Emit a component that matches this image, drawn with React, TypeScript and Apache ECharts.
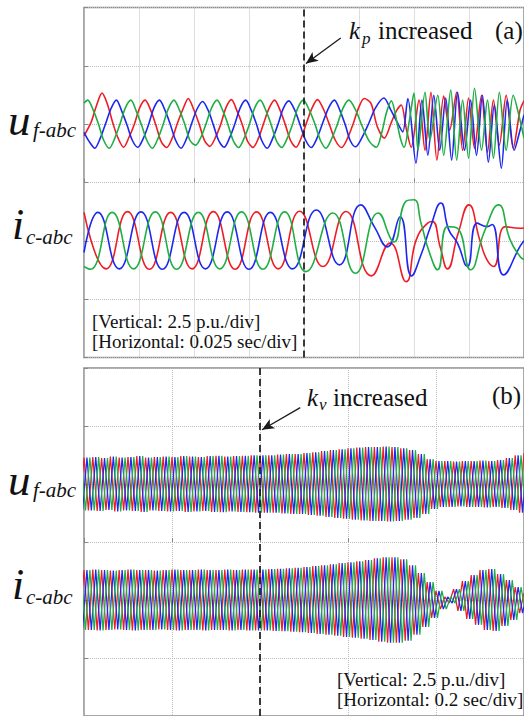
import React, { useEffect, useRef } from "react";
import * as echarts from "echarts";

// ---------- Panel (a): time in ms, values in p.u. ----------
const UF_A_RED: number[][] = [[0,-0.5],[3.3,0.1],[5.5,0.75],[8.2,1.33],[10.5,0.9],[13.1,0.05],[15.5,-0.6],[18.0,-0.99],[20.5,-0.55],[22.9,0.0],[25.3,0.7],[27.8,1.03],[30.3,0.6],[32.7,-0.05],[35.1,-0.75],[37.6,-1.0],[40.1,-0.6],[42.5,0.05],[45.0,0.65],[47.4,1.1],[49.9,0.62],[52.3,0.02],[54.7,-0.68],[57.2,-0.95],[59.7,-0.58],[62.1,-0.02],[64.5,0.7],[67.0,1.05],[69.5,0.58],[71.9,0.0],[74.3,-0.72],[76.8,-1.0],[79.3,-0.6],[81.7,0.05],[84.1,0.68],[86.6,1.03],[89.1,0.6],[91.5,-0.02],[93.9,-0.7],[96.4,-0.99],[98.9,-0.55],[101.3,0.1],[103.7,0.7],[106.1,1.05],[108.8,0.65],[111.5,0.0],[114.3,-0.7],[117.1,-1.0],[119.8,-0.6],[122.3,0.0],[124.8,0.7],[127.4,1.1],[130.4,0.9],[133.3,-0.1],[136.5,-0.6],[139.8,0.1],[142.2,0.6],[144.2,0.82],[146.5,-0.2],[148.7,-0.99],[152.3,1.03],[155.0,-1.12],[157.7,1.37],[160.4,-1.54],[163.5,1.2],[166.2,-0.26],[169.4,1.37],[172.1,-1.12],[174.8,1.12],[177.5,-1.03],[180.7,1.24],[183.4,-1.2],[186.1,1.03],[188.8,-0.9],[191.9,1.24],[195.1,-1.03],[198.2,0.6],[200,1.0]];
const UF_A_BLUE: number[][] = [[0,-0.35],[2.4,-0.75],[4.9,-1.03],[7.4,-0.6],[9.8,0.02],[12.2,0.65],[14.7,1.03],[17.2,0.55],[19.6,-0.05],[22.0,-0.7],[24.5,-0.99],[27.0,-0.6],[29.4,0.0],[31.8,0.7],[34.3,1.03],[36.8,0.6],[39.2,0.0],[41.6,-0.68],[44.1,-1.03],[46.6,-0.62],[49.0,0.05],[51.4,0.65],[53.9,0.97],[56.4,0.6],[58.8,-0.03],[61.2,-0.7],[63.7,-0.99],[66.2,-0.58],[68.6,0.02],[71.0,0.7],[73.5,1.03],[76.0,0.6],[78.4,0.0],[80.8,-0.7],[83.3,-1.03],[85.8,-0.6],[88.2,0.0],[90.6,0.68],[93.1,1.0],[95.8,0.6],[98.3,-0.05],[100.8,-0.7],[103.3,-1.0],[105.9,-0.6],[108.5,0.05],[111.2,0.7],[113.8,1.03],[116.5,0.55],[119.0,-0.1],[121.0,-0.7],[123.4,-0.97],[126.5,-0.55],[129.5,0.05],[132.5,0.7],[136.3,1.12],[139.5,0.6],[142.6,0.04],[144.9,-0.33],[147.2,1.1],[150.9,-1.67],[153.6,1.03],[156.3,-1.33],[159.0,1.24],[161.7,-1.12],[164.4,1.12],[167.1,-1.54],[169.8,1.37],[173.0,-1.12],[175.7,1.03],[178.4,-1.33],[181.1,1.24],[183.8,-1.63],[186.5,0.82],[189.7,-1.89],[192.4,1.03],[195.5,-1.12],[198.2,-0.26],[200,0.4]];
const UF_A_GREEN: number[][] = [[0,0.9],[1.7,1.03],[4.2,0.6],[6.6,0.0],[9.0,-0.7],[11.5,-1.03],[14.0,-0.6],[16.4,0.02],[18.8,0.7],[21.3,1.03],[23.8,0.55],[26.2,-0.05],[28.6,-0.7],[31.1,-1.03],[33.6,-0.62],[36.0,0.0],[38.4,0.68],[40.9,1.03],[43.4,0.6],[45.8,0.0],[48.2,-0.7],[50.7,-0.9],[53.2,-0.55],[55.6,0.05],[58.0,0.7],[60.5,1.03],[63.0,0.6],[65.4,0.0],[67.8,-0.7],[70.3,-1.0],[72.8,-0.6],[75.2,0.0],[77.6,0.7],[80.1,1.03],[82.6,0.6],[85.0,0.0],[87.4,-0.7],[89.9,-1.0],[92.4,-0.6],[94.8,0.0],[97.2,0.7],[99.7,1.03],[102.4,0.6],[105.0,0.0],[107.5,-0.7],[110.0,-1.03],[112.7,-0.6],[115.2,0.0],[117.8,0.7],[120.4,1.03],[123.5,0.6],[126.5,-0.1],[129.8,-0.75],[132.9,-0.99],[135.5,-0.3],[137.5,0.5],[139.7,1.0],[142.2,0.1],[143.8,-0.6],[145.5,-0.99],[147.8,0.1],[150.0,1.33],[151.8,-1.12],[155.0,1.37],[157.2,-0.69],[160.8,1.24],[163.5,-1.33],[166.7,1.46],[169.4,-1.54],[172.1,1.03],[174.8,-1.46],[177.5,1.54],[180.7,-1.12],[183.4,1.03],[186.1,-1.46],[188.8,1.37],[191.9,-1.12],[195.1,1.24],[198.2,0.17],[200,-0.6]];

const IC_A_RED: number[][] = [[0,1.22],[10.1,-1.2],[19.8,1.25],[29.7,-1.22],[39.4,1.22],[49.1,-1.2],[58.8,1.25],[68.7,-1.22],[78.4,1.24],[88.3,-1.2],[98.0,1.27],[108.6,-1.1],[119.1,1.26],[130.6,-1.5],[139.2,-0.09],[146.4,-1.75],[151.0,0.04],[156.2,0.76],[158.4,0.83],[162.0,-0.3],[165.2,-1.2],[170.0,0.3],[174.9,1.54],[180.0,0.0],[183.2,-0.82],[186.2,-1.1],[191.5,0.61],[198.2,0.54],[200,0.55]];
const IC_A_BLUE: number[][] = [[0,-0.5],[6.3,1.22],[16.0,-1.2],[25.9,1.24],[35.6,-1.22],[45.5,1.22],[55.2,-1.2],[65.1,1.24],[75.0,-1.22],[84.7,1.22],[94.8,-1.2],[105.6,1.32],[116.1,-1.03],[125.8,1.54],[132.0,0.6],[137.9,-0.26],[143.7,1.03],[148.9,-1.5],[153.2,-0.6],[157.5,0.6],[162.2,1.62],[165.8,0.47],[169.7,-0.09],[174.2,-1.1],[178.7,0.76],[183.2,0.61],[185.5,0.7],[190.7,-1.46],[198.2,-0.24],[200,0.0]];
const IC_A_GREEN: number[][] = [[0,-1.1],[2.9,-1.22],[12.8,1.22],[22.5,-1.2],[32.4,1.24],[42.1,-1.22],[52.0,1.22],[61.7,-1.2],[71.6,1.24],[81.3,-1.22],[91.2,1.24],[100.9,-1.32],[113.1,1.19],[123.4,-1.39],[133.7,1.19],[139.7,0.04],[141.0,-0.05],[146.4,1.7],[150.0,1.76],[153.2,0.76],[157.0,-0.5],[160.7,-1.24],[165.2,0.61],[169.7,0.54],[175.7,-1.24],[182.0,0.4],[188.4,1.54],[193.7,0.04],[198.2,-0.67],[200,-0.8]];

// ---------- Panel (b): per-cycle peak amplitude (p.u.), one value per 20 ms cycle ----------
const B_CYCLE_MS = 20;
const B_PHASE_SHIFT_MS = [0, 6.67, 13.33];
const UF_B_AMP = [1.14,1.16,1.12,1.18,1.14,1.16,1.2,1.14,1.16,1.18,1.16,1.2,1.18,1.16,1.2,1.22,1.18,1.2,1.22,1.24,
  1.24,1.24,1.27,1.29,1.29,1.33,1.37,1.42,1.46,1.5,1.54,1.57,1.59,1.59,1.61,1.59,1.54,1.46,1.29,1.07,
  0.99,0.99,0.97,0.99,0.99,1.01,0.99,1.03,1.12,1.24,1.33];
const IC_B_AMP = [1.29,1.31,1.29,1.27,1.29,1.31,1.29,1.29,1.27,1.29,1.31,1.29,1.29,1.31,1.29,1.29,1.31,1.29,1.31,1.31,
  1.31,1.33,1.35,1.37,1.39,1.42,1.46,1.5,1.54,1.59,1.63,1.67,1.72,1.8,1.84,1.84,1.76,1.5,1.16,0.77,
  0.39,0.13,0.47,0.82,1.07,1.29,1.33,1.12,0.86,0.56,0.3];

// ---------- axes ----------
const A_X_MAX = 200, A_X_DIV = 25, A_EVENT = 100;
const B_X_MAX = 1000, B_X_DIV = 200, B_EVENT = 400;
const Y_MIN = -7.5, Y_MAX = 7.5, Y_DIV = 2.5;
const UF_OFF = 2.5, IC_OFF = -2.5;

const RED = "#ee1d25", BLUE = "#1d27ee", GREEN = "#1fae43";
const SERIF = "Liberation Serif";

function offset(pts: number[][], off: number) {
  return pts.map(([t, v]) => [t, v + off]);
}
function band(amp: number[], shiftMs: number, off: number) {
  const pts: number[][] = [];
  for (let k = -1; k < amp.length; k++) {
    const a = amp[Math.max(k, 0)];
    const t0 = k * B_CYCLE_MS + shiftMs;
    pts.push([t0, off + a]);
    pts.push([t0 + B_CYCLE_MS / 2, off - a]);
  }
  return pts;
}

function axisX(gridIndex: number, max: number, interval: number) {
  return {
    type: "value", gridIndex, min: 0, max, interval,
    axisLabel: { show: false }, axisLine: { show: false },
    axisTick: { show: true, inside: true, length: 4, lineStyle: { color: "#888" } },
    splitLine: { show: true, lineStyle: { type: "dotted", color: "#bcbcbc", width: 1 } },
  };
}
function axisY(gridIndex: number) {
  return {
    type: "value", gridIndex, min: Y_MIN, max: Y_MAX, interval: Y_DIV,
    axisLabel: { show: false }, axisLine: { show: false },
    axisTick: { show: true, inside: true, length: 4, lineStyle: { color: "#888" } },
    splitLine: { show: true, lineStyle: { type: "dotted", color: "#bcbcbc", width: 1 } },
  };
}

function txt(x: number, baseline: number, text: string, size: number, italic = false) {
  return {
    type: "text", x, y: baseline - size * 0.3, z: 100,
    style: { text, fontSize: size, fontFamily: SERIF, fontStyle: italic ? "italic" : "normal", fill: "#111", verticalAlign: "middle", align: "left" },
  };
}

export default function App() {
  const ref = useRef<HTMLDivElement>(null);
  useEffect(() => {
    if (!ref.current) return;
    const chart = echarts.init(ref.current, undefined, { renderer: "svg" });
    const lineA = (data: number[][], color: string, smooth: number, extra: any = {}) => ({
      type: "line", xAxisIndex: 0, yAxisIndex: 0, data, showSymbol: false, symbol: "none",
      smooth, lineStyle: { color, width: 1.6 }, silent: true, clip: true, ...extra,
    });
    const lineB = (data: number[][], color: string, extra: any = {}) => ({
      type: "line", xAxisIndex: 1, yAxisIndex: 1, data, showSymbol: false, symbol: "none",
      lineStyle: { color, width: 1.25 }, silent: true, clip: true, ...extra,
    });
    const dashed = (x: number) => ({
      silent: true, symbol: ["none", "none"], label: { show: false },
      lineStyle: { color: "#1a1a1a", type: [7, 4], width: 1.7 }, data: [{ xAxis: x }],
    });
    const arrow = (from: number[], to: number[]) => ({
      silent: true, symbol: ["none", "arrow"], symbolSize: [8, 12], label: { show: false },
      lineStyle: { color: "#1a1a1a", type: "solid", width: 1.3 },
      data: [[{ coord: from }, { coord: to }]],
    });

    const option: any = {
      animation: false,
      backgroundColor: "#ffffff",
      textStyle: { fontFamily: SERIF },
      grid: [
        { left: 84, top: 7.5, width: 444, height: 350, show: true, borderColor: "#8c8c8c", borderWidth: 1.5 },
        { left: 84, top: 368, width: 443.5, height: 348, show: true, borderColor: "#8c8c8c", borderWidth: 1.5 },
      ],
      xAxis: [axisX(0, A_X_MAX, A_X_DIV), axisX(1, B_X_MAX, B_X_DIV)],
      yAxis: [axisY(0), axisY(1)],
      series: [
        lineA(offset(UF_A_RED, UF_OFF), RED, 0.3),
        lineA(offset(UF_A_BLUE, UF_OFF), BLUE, 0.3),
        lineA(offset(UF_A_GREEN, UF_OFF), GREEN, 0.3),
        lineA(offset(IC_A_RED, IC_OFF), RED, 0.5),
        lineA(offset(IC_A_BLUE, IC_OFF), BLUE, 0.5, { markLine: arrow([116.7, 6.19], [100.9, 5.1]) }),
        lineA(offset(IC_A_GREEN, IC_OFF), GREEN, 0.5, { markLine: dashed(A_EVENT) }),
        lineB(band(UF_B_AMP, B_PHASE_SHIFT_MS[0], UF_OFF), RED),
        lineB(band(UF_B_AMP, B_PHASE_SHIFT_MS[1], UF_OFF), BLUE),
        lineB(band(UF_B_AMP, B_PHASE_SHIFT_MS[2], UF_OFF), GREEN),
        lineB(band(IC_B_AMP, B_PHASE_SHIFT_MS[0], IC_OFF), RED),
        lineB(band(IC_B_AMP, B_PHASE_SHIFT_MS[1], IC_OFF), BLUE, { markLine: arrow([491.5, 5.79], [404.7, 4.84]) }),
        lineB(band(IC_B_AMP, B_PHASE_SHIFT_MS[2], IC_OFF), GREEN, { markLine: dashed(B_EVENT) }),
      ],
      graphic: [
        // panel (a)
        txt(349, 38, "k", 25, true),
        txt(362, 44, "p", 17, true),
        txt(378, 38, "increased", 25),
        txt(495, 38, "(a)", 25),
        txt(92, 327, "[Vertical: 2.5 p.u./div]", 19),
        txt(92, 347, "[Horizontal: 0.025 sec/div]", 19),
        txt(8, 133, "u", 45, true),
        txt(33, 136, "f-abc", 21, true),
        txt(12, 238, "i", 44, true),
        txt(26, 243, "c-abc", 21, true),
        // panel (b)
        txt(307, 405, "k", 25, true),
        txt(319, 410, "v", 17, true),
        txt(333, 405, "increased", 25),
        txt(492, 403, "(b)", 25),
        txt(337, 685, "[Vertical: 2.5 p.u./div]", 19),
        txt(337, 705, "[Horizontal: 0.2 sec/div]", 19),
        txt(8, 493, "u", 45, true),
        txt(33, 496, "f-abc", 21, true),
        txt(12, 598, "i", 44, true),
        txt(26, 603, "c-abc", 21, true),
      ],
    };
    chart.setOption(option);
    return () => chart.dispose();
  }, []);
  return <div ref={ref} style={{ position: "absolute", left: 0, top: 0, width: 524, height: 716, background: "#fff" }} />;
}
